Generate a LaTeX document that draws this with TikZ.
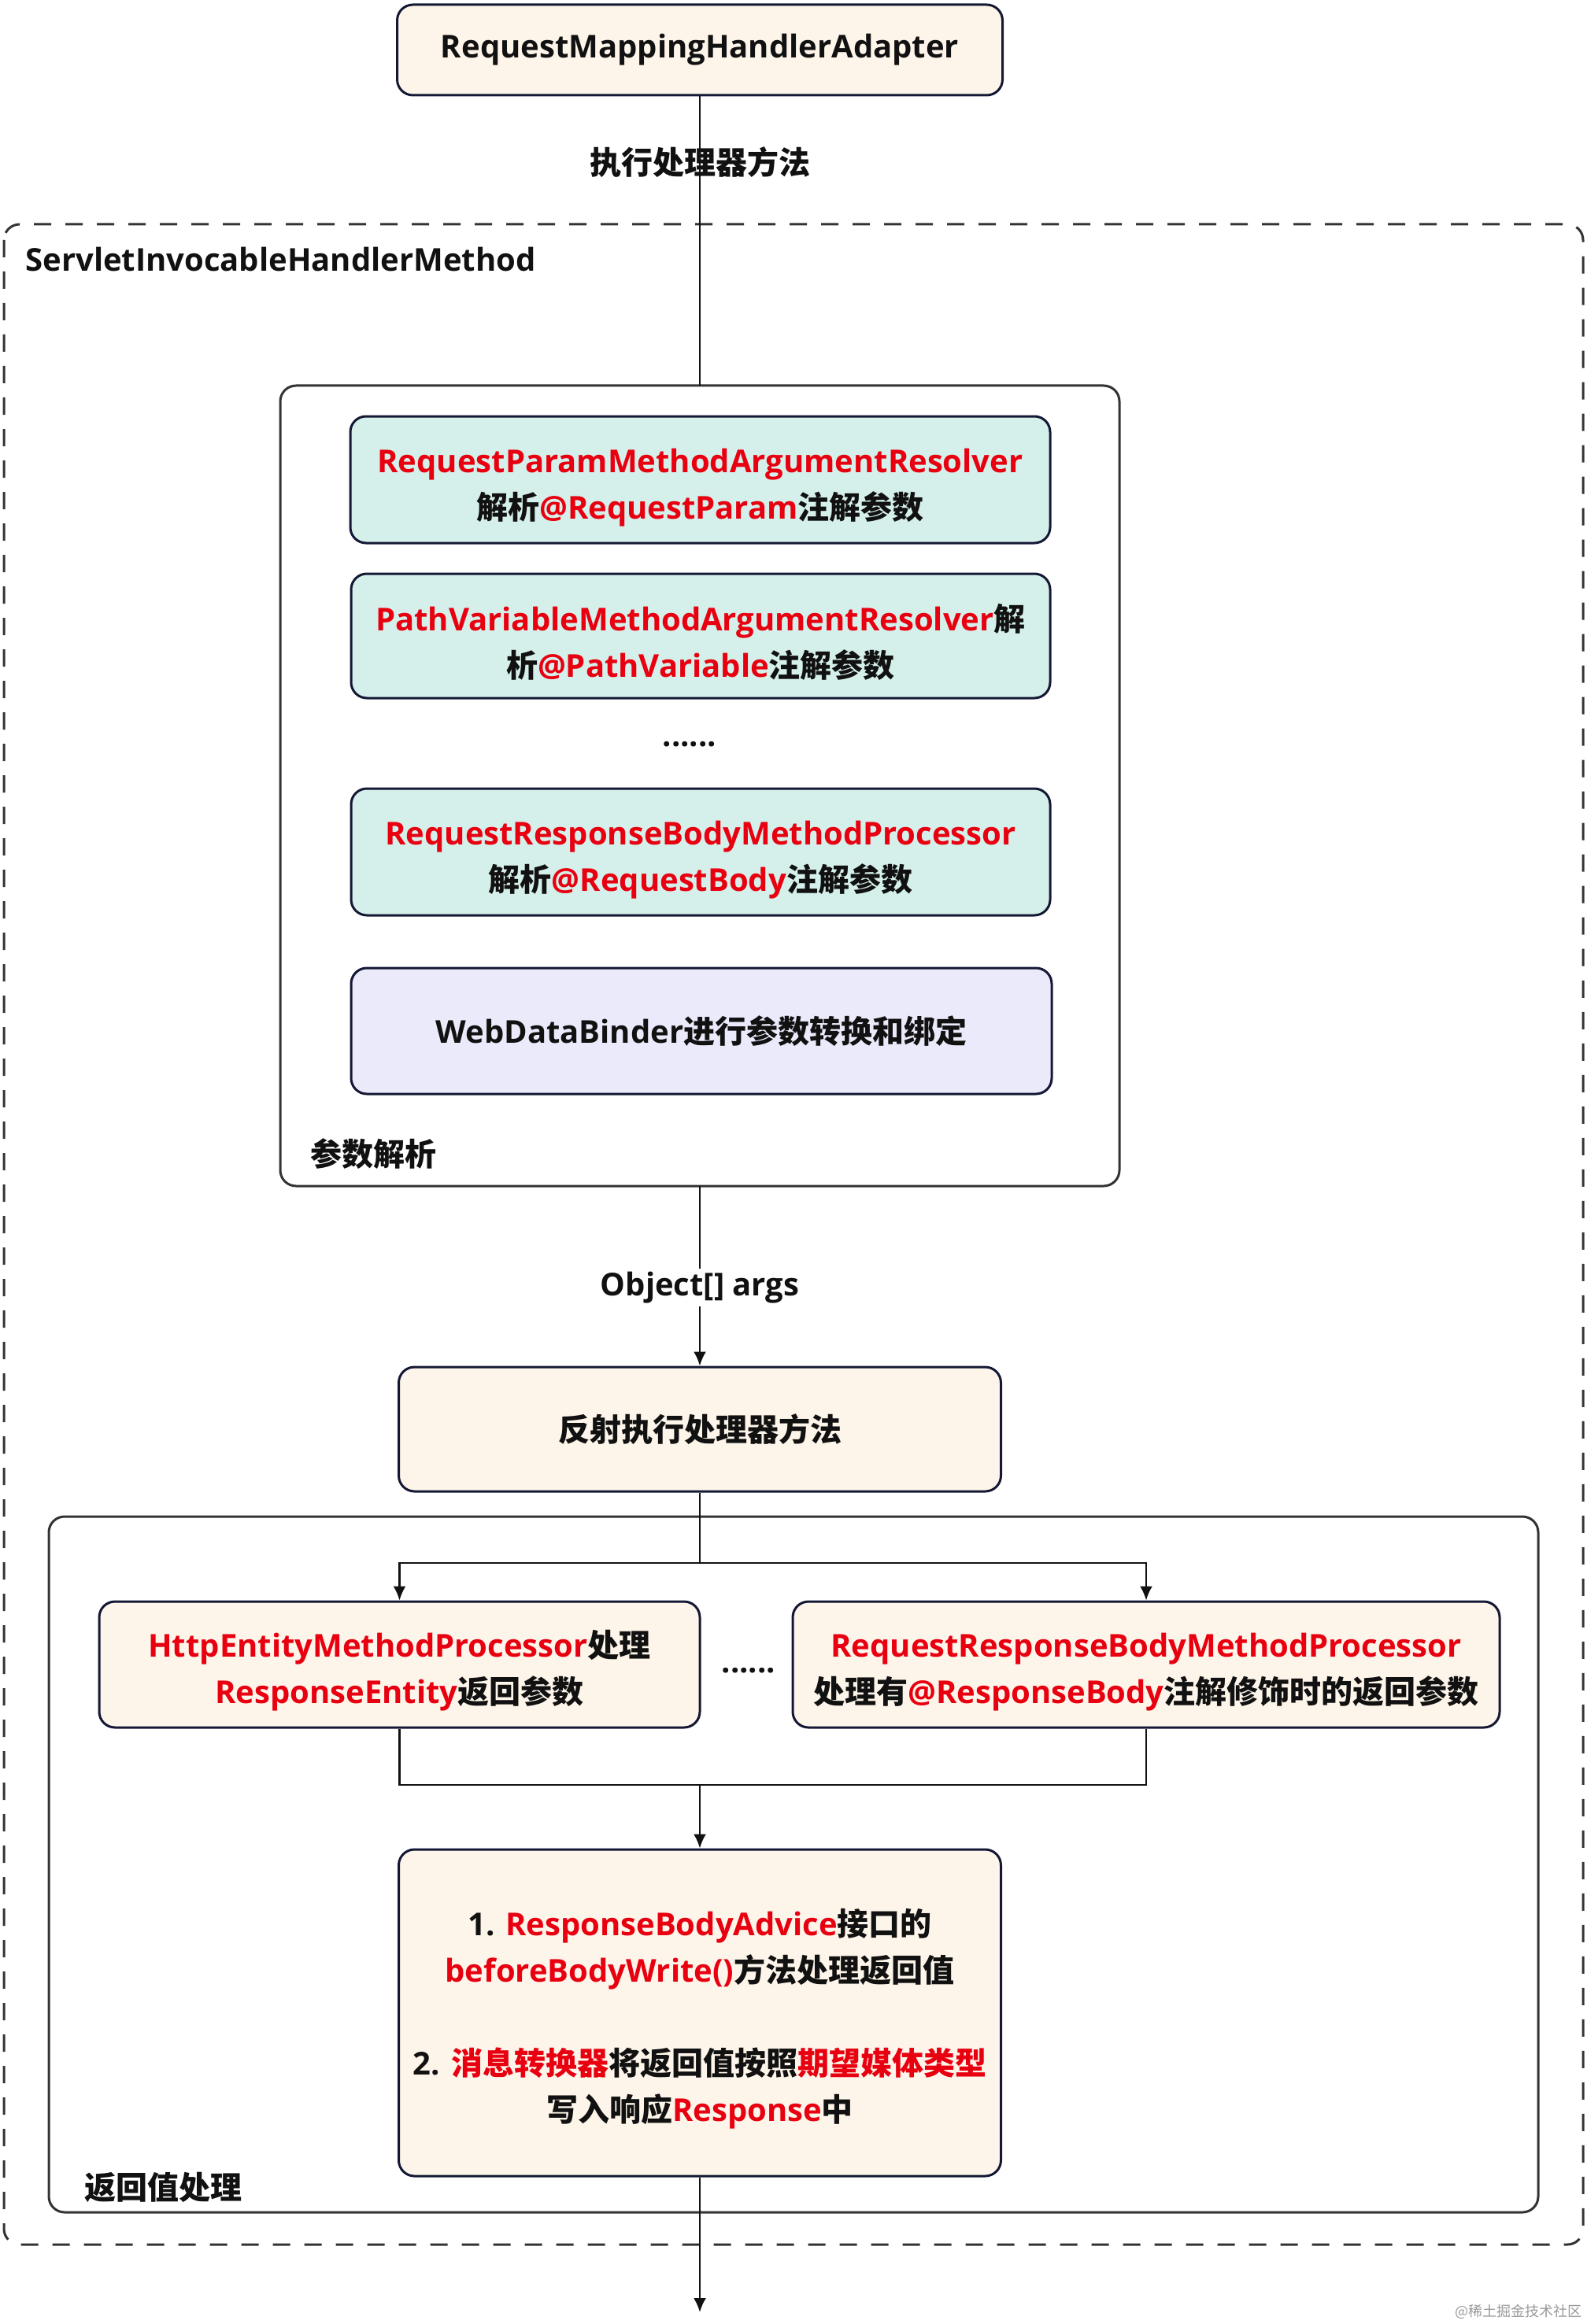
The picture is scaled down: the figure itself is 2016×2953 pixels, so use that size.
\documentclass[tikz,border=0pt]{standalone}
\usepackage{fontspec}
\setmainfont{Open Sans}
\newfontfamily\cjk{Noto Sans CJK SC}
\usetikzlibrary{arrows.meta}
\definecolor{myred}{RGB}{232,0,16}
\definecolor{boxline}{RGB}{20,24,52}
\definecolor{contline}{RGB}{51,51,51}
\definecolor{creamfill}{RGB}{253,245,234}
\definecolor{tealfill}{RGB}{213,240,234}
\definecolor{lavfill}{RGB}{234,234,250}
\definecolor{txt}{RGB}{17,17,17}
\newcommand\zh[1]{{\cjk #1}}
\newcommand\rd[1]{\textcolor{myred}{#1}}
\newcommand\fs{\rule{0pt}{25pt}}
\begin{document}
\begin{tikzpicture}[x=0.5pt,y=-0.5pt,
  txtfont/.style={font=\bfseries\fontsize{20}{29.5}\selectfont, text=txt},
  box/.style={draw=boxline, line width=1.5pt, rounded corners=10pt, align=center, inner sep=0pt, txtfont},
  creambox/.style={box, fill=creamfill},
  tealbox/.style={box, fill=tealfill},
  lavbox/.style={box, fill=lavfill},
  container/.style={draw=contline, line width=1.5pt, rounded corners=10pt},
  dashcont/.style={draw=contline, line width=1.5pt, rounded corners=10pt, dash pattern=on 11pt off 9pt},
  conn/.style={draw=txt, line width=1.2pt},
  arrow/.style={conn, -{Latex[length=9pt,width=8pt]}},
  lbl/.style={txtfont, inner sep=0pt},
]
\useasboundingbox (0,0) rectangle (2016,2953);

% containers
\draw[dashcont] (5,285) rectangle (2011,2852);
\node[lbl, anchor=base west] (servlet) at (32,345) {ServletInvocableHandlerMethod};

\draw[container, fill=white] (356,490) rectangle (1422,1507);
\node (param) [minimum width=533pt, minimum height=508.5pt, inner sep=0pt] at (889,998.5) {};
\node[lbl, anchor=west] (paramlbl) at (394,1466) {\zh{参数解析}};

\draw[container] (62,1927) rectangle (1954,2811);
\node[lbl, anchor=west] (retlbl) at (107,2779) {\zh{返回值处理}};

% top
\node[creambox, minimum width=384.5pt, minimum height=57.5pt] (top) at (889,63.5) {RequestMappingHandlerAdapter};

% resolvers
\node[tealbox, minimum width=444.5pt, minimum height=80.5pt] (r1) at (889.5,609.5)
  {\fs\rd{RequestParamMethodArgumentResolver}\\\zh{解析}\rd{@RequestParam}\zh{注解参数}};
\node[tealbox, minimum width=444pt, minimum height=79pt] (r2) at (890,808)
  {\fs\rd{PathVariableMethodArgumentResolver}\zh{解}\\\zh{析}\rd{@PathVariable}\zh{注解参数}};
\node[lbl] (dots1) at (876,946) {......};
\node[tealbox, minimum width=444pt, minimum height=80.5pt] (r3) at (890,1082.5)
  {\fs\rd{RequestResponseBodyMethodProcessor}\\\zh{解析}\rd{@RequestBody}\zh{注解参数}};
\node[lavbox, minimum width=445pt, minimum height=80pt] (wdb) at (891,1310)
  {WebDataBinder\zh{进行参数转换和绑定}};

% reflect
\node[creambox, minimum width=382.5pt, minimum height=79pt] (reflect) at (889,1816) {\zh{反射执行处理器方法}};

% return handlers
\node[creambox, minimum width=381.5pt, minimum height=80pt] (left) at (507.5,2115)
  {\fs\rd{HttpEntityMethodProcessor}\zh{处理}\\\rd{ResponseEntity}\zh{返回参数}};
\node[creambox, minimum width=449pt, minimum height=80pt] (right) at (1456,2115)
  {\fs\rd{RequestResponseBodyMethodProcessor}\\\zh{处理有}\rd{@ResponseBody}\zh{注解修饰时的返回参数}};
\node[lbl] (dots2) at (951,2123) {......};

\node[creambox, minimum width=382.5pt, minimum height=207.5pt] (final) at (889,2557.5)
  {\fs 1. \rd{ResponseBodyAdvice}\zh{接口的}\\\rd{beforeBodyWrite()}\zh{方法处理返回值}\\[29.5pt]
   2. \rd{\zh{消息转换器}}\zh{将返回值按照}\rd{\zh{期望媒体类型}}\\\zh{写入响应}\rd{Response}\zh{中}};

% connectors
\draw[conn] (top.south) -- (param.north);
\node[lbl] (exec) at (889,206) {\zh{执行处理器方法}};

\draw[arrow] (param.south) -- node[lbl, fill=white, pos=0.565, inner sep=2pt] (args) {Object[] args} (reflect.north);

\coordinate (split) at (889,1986);
\coordinate (merge) at (889,2268);
\coordinate (out) at (889,2938);
\draw[conn] (reflect.south) -- (split);
\draw[arrow] (split) -| (left.north);
\draw[arrow] (split) -| (right.north);
\draw[conn] (left.south) |- (merge);
\draw[conn] (right.south) |- (merge);
\draw[arrow] (merge) -- (final.north);
\draw[arrow] (final.south) -- (out);

\node[anchor=east, text=black!40, font=\cjk\fontsize{9}{10}\selectfont, inner sep=0pt] (wm) at (2010,2937) {@稀土掘金技术社区};
\end{tikzpicture}
\end{document}
